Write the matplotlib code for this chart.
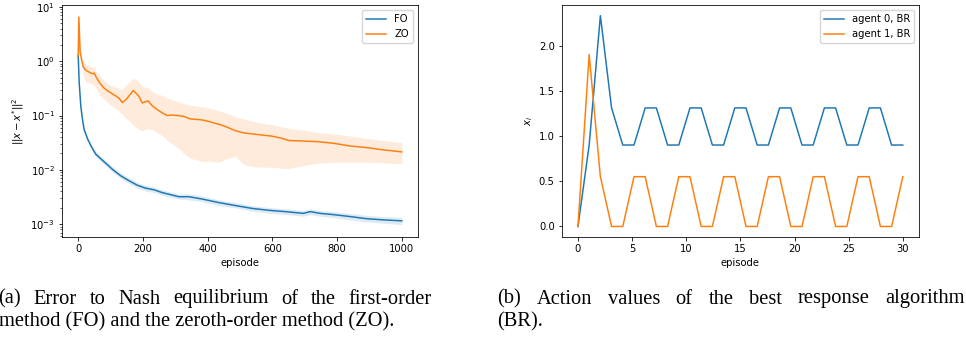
import numpy as np
import matplotlib
matplotlib.use("Agg")
import matplotlib.pyplot as plt

# ---- (a) error to Nash equilibrium
fo_ep = [0, 3, 8, 13, 18, 29, 39, 54, 80, 106, 131, 157, 183, 208, 234, 260, 285,
         311, 342, 383, 434, 486, 537, 588, 640, 696, 717, 747, 788, 840, 891, 942, 1000]
fo_mean = [1.27, 0.41, 0.15, 0.087, 0.056, 0.037, 0.028, 0.0195, 0.0141, 0.0102, 0.0078,
           0.0063, 0.0052, 0.0046, 0.0043, 0.0038, 0.0035, 0.0032, 0.0032, 0.0029, 0.0025,
           0.0022, 0.00195, 0.0018, 0.0017, 0.00158, 0.0017, 0.00158, 0.0015, 0.00138,
           0.00126, 0.0012, 0.00115]
fo_lo = [1.24, 0.39, 0.14, 0.080, 0.051, 0.033, 0.025, 0.0174, 0.0126, 0.0091, 0.0070,
         0.0056, 0.0046, 0.0041, 0.0038, 0.0034, 0.0031, 0.0029, 0.0028, 0.0026, 0.0022,
         0.0020, 0.00173, 0.0016, 0.0015, 0.0014, 0.0015, 0.0014, 0.00133, 0.0012,
         0.0011, 0.00104, 0.00098]
fo_hi = [1.30, 0.43, 0.16, 0.094, 0.061, 0.041, 0.031, 0.0219, 0.0158, 0.0115, 0.0088,
         0.0071, 0.0058, 0.0052, 0.0048, 0.0043, 0.0039, 0.0036, 0.0036, 0.0033, 0.0028,
         0.0025, 0.0022, 0.00203, 0.00192, 0.00178, 0.00192, 0.00178, 0.0017, 0.00158,
         0.00145, 0.00138, 0.00133]

zo_ep = [0, 2, 6, 10, 16, 24, 34, 44, 50, 55, 65, 80, 95, 111, 126, 136, 147, 162, 170,
         181, 188, 198, 208, 216, 229, 244, 260, 275, 291, 306, 326, 345, 383, 403, 434,
         455, 486, 511, 537, 568, 599, 630, 650, 696, 737, 788, 840, 891, 942, 1000]
zo_mean = [1.27, 6.5, 1.47, 1.10, 0.78, 0.68, 0.63, 0.59, 0.60, 0.52, 0.41, 0.32, 0.275,
           0.24, 0.21, 0.174, 0.195, 0.25, 0.29, 0.25, 0.224, 0.17, 0.18, 0.186, 0.151,
           0.129, 0.112, 0.100, 0.102, 0.100, 0.097, 0.087, 0.083, 0.078, 0.069, 0.063,
           0.0525, 0.048, 0.046, 0.0437, 0.0417, 0.038, 0.0347, 0.0339, 0.0331, 0.0309,
           0.0275, 0.0257, 0.0234, 0.0214]
zo_lo = [1.20, 5.6, 1.26, 0.89, 0.50, 0.41, 0.40, 0.38, 0.355, 0.316, 0.25, 0.20, 0.166,
         0.141, 0.120, 0.105, 0.089, 0.076, 0.066, 0.060, 0.056, 0.052, 0.056, 0.057,
         0.055, 0.048, 0.043, 0.035, 0.030, 0.026, 0.020, 0.0166, 0.0141, 0.0145, 0.0138,
         0.0158, 0.0178, 0.0126, 0.0115, 0.0112, 0.0112, 0.0107, 0.0105, 0.012, 0.0132,
         0.0138, 0.0138, 0.0138, 0.0135, 0.0129]
zo_hi = [1.32, 7.2, 1.66, 1.32, 0.95, 0.87, 0.83, 0.79, 0.79, 0.66, 0.54, 0.44, 0.37,
         0.34, 0.316, 0.30, 0.355, 0.44, 0.48, 0.46, 0.40, 0.35, 0.33, 0.33, 0.28, 0.25,
         0.234, 0.21, 0.195, 0.182, 0.166, 0.155, 0.145, 0.138, 0.123, 0.112, 0.095,
         0.087, 0.079, 0.072, 0.068, 0.062, 0.058, 0.054, 0.049, 0.046, 0.042, 0.038,
         0.0347, 0.0316]

# ---- (b) best response actions, 30 steps over episodes 0..30
br_ep = np.linspace(0, 30, 30)
agent0 = [0, 0.9, 2.33, 1.31, 0.9, 0.9, 1.31, 1.31, 0.9, 0.9, 1.31, 1.31, 0.9, 0.9, 1.31,
          1.31, 0.9, 0.9, 1.31, 1.31, 0.9, 0.9, 1.31, 1.31, 0.9, 0.9, 1.31, 1.31, 0.9, 0.9]
agent1 = [0, 1.9, 0.55, 0, 0, 0.55, 0.55, 0, 0, 0.55, 0.55, 0, 0, 0.55, 0.55, 0, 0, 0.55,
          0.55, 0, 0, 0.55, 0.55, 0, 0, 0.55, 0.55, 0, 0, 0.55]

caption_a = ["(a) Error to Nash equilibrium of the first-order",
             "method (FO) and the zeroth-order method (ZO)."]
caption_b = ["(b) Action values of the best response algorithm",
             "(BR)."]

# original figure was shrunk, so scale the defaults down
s = 0.72
plt.rcParams.update({
    "font.size": 10 * s,
    "lines.linewidth": 1.5 * s,
    "axes.linewidth": 0.8 * s,
    "xtick.major.size": 3.5 * s, "ytick.major.size": 3.5 * s,
    "xtick.major.width": 0.8 * s, "ytick.major.width": 0.8 * s,
    "xtick.minor.size": 2 * s, "ytick.minor.size": 2 * s,
    "xtick.minor.width": 0.6 * s, "ytick.minor.width": 0.6 * s,
    "xtick.major.pad": 3.5 * s, "ytick.major.pad": 3.5 * s,
    "axes.labelpad": 4 * s,
})

W, H = 966, 341
fig = plt.figure(figsize=(W / 100, H / 100), dpi=100)
ax1 = fig.add_axes([0.0642, 0.305, 0.3685, 0.680])
ax2 = fig.add_axes([0.5815, 0.305, 0.3699, 0.680])

ax1.fill_between(fo_ep, fo_lo, fo_hi, color="C0", alpha=0.15, lw=0)
ax1.fill_between(zo_ep, zo_lo, zo_hi, color="C1", alpha=0.15, lw=0)
ax1.plot(fo_ep, fo_mean, color="C0", label="FO")
ax1.plot(zo_ep, zo_mean, color="C1", label="ZO")
ax1.set_yscale("log")
ax1.set_ylim(5.8e-4, 10.8)
ax1.set_xlim(-50, 1050)
ax1.set_xlabel("episode")
ax1.set_ylabel(r"$||x - x^{*}||^2$")
ax1.legend(loc="upper right")

ax2.plot(br_ep, agent0, color="C0", label="agent 0, BR")
ax2.plot(br_ep, agent1, color="C1", label="agent 1, BR")
ax2.set_xlabel("episode")
ax2.set_ylabel(r"$x_i$")
ax2.legend(loc="upper right")

# captions: first line justified between left and right px, like the LaTeX original
cap_font = dict(family="Liberation Serif", fontsize=14.8, va="baseline", ha="left")
renderer = fig.canvas.get_renderer()


def justified(line, x0, x1, base):
    words = line.split()
    texts = [fig.text(0, 1 - base / H, w, **cap_font) for w in words]
    widths = [t.get_window_extent(renderer).width for t in texts]
    gap = (x1 - x0 - sum(widths)) / (len(words) - 1)
    x = x0
    for t, w in zip(texts, widths):
        t.set_x(x / W)
        x += w + gap


justified(caption_a[0], -2, 432, 303.5)
fig.text(-1 / W, 1 - 326 / H, caption_a[1], **cap_font)
justified(caption_b[0], 497, 965, 303.5)
fig.text(497 / W, 1 - 326 / H, caption_b[1], **cap_font)

fig.savefig("out.png", dpi=100)
